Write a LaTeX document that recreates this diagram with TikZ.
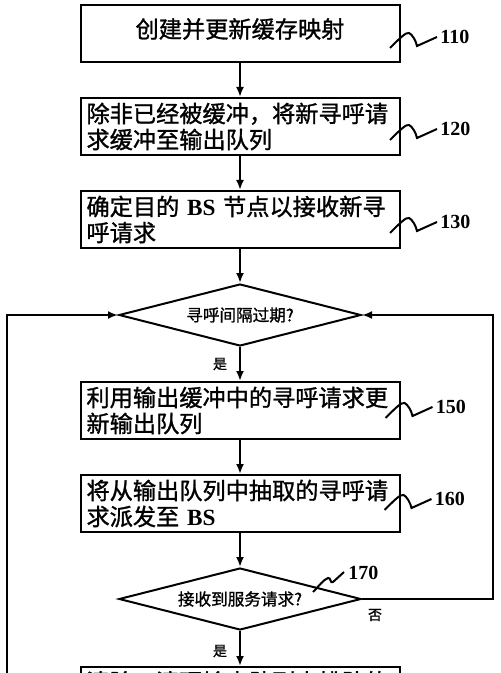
\documentclass[tikz,border=0pt]{standalone}
\usepackage{fontspec}
\setmainfont{Liberation Serif}
\newfontfamily\cjk{Noto Sans CJK SC}[FakeBold=1.2]
\usetikzlibrary{arrows.meta,shapes.geometric,positioning}
\tikzset{
  stepbox/.style={draw, line width=1pt, rectangle, minimum width=159.5pt, minimum height=28.5pt, text width=153.5pt, inner xsep=3pt, inner ysep=2pt, align=left, font=\cjk\fontsize{11.6}{13}\selectfont},
  decision/.style={draw, line width=1pt, diamond, aspect=4, minimum width=121pt, minimum height=31pt, inner sep=0pt, font=\cjk\fontsize{8.3}{10}\selectfont},
  flow/.style={line width=1pt, -{Latex[length=5pt,width=4pt]}},
  refnum/.style={anchor=west, inner sep=0pt, font=\bfseries\fontsize{10}{12}\selectfont},
  refline/.style={line width=1pt},
  answer/.style={inner sep=0pt, font=\cjk\fontsize{7}{8}\selectfont}
}
\newcommand{\refmark}[1]{\draw[refline] ([shift={(-50,11)}]#1.west) .. controls +(10,-10) and +(-3,-1) .. ++(19,-15) .. controls +(3,1) and +(-1,-5) .. ++(8,13) -- ++(20,-9);}

\begin{document}
\begin{tikzpicture}[x=0.5pt, y=-0.5pt]
  \useasboundingbox (0,0) rectangle (500,673);
  \clip (0,0) rectangle (500,673);

  \node[stepbox, align=center] (b110) at (240,33.5) {\raisebox{5.5pt}{创建并更新缓存映射}};
  \node[stepbox, below=17pt of b110] (b120) {除非已经被缓冲，将新寻呼请\\求缓冲至输出队列};
  \node[stepbox, below=17pt of b120] (b130) {确定目的 {\rmfamily\bfseries BS} 节点以接收新寻\\呼请求};
  \node[decision, below=17pt of b130] (d140) {寻呼间隔过期?};
  \node[stepbox, below=17pt of d140] (b150) {利用输出缓冲中的寻呼请求更\\新输出队列};
  \node[stepbox, below=17pt of b150] (b160) {将从输出队列中抽取的寻呼请\\求派发至 {\rmfamily\bfseries BS}};
  \node[decision, below=17pt of b160] (d170) {接收到服务请求?};
  \node[stepbox, below=17.5pt of d170] (b180) {清除：清理输出队列中排队的\\\strut};

  % reference numbers
  \node[refnum] (n110) at ([shift={(39.5,3.5)}]b110.east) {110};
  \node[refnum] (n120) at ([shift={(39.5,2.5)}]b120.east) {120};
  \node[refnum] (n130) at ([shift={(39.5,2.5)}]b130.east) {130};
  \node[refnum] (n150) at ([shift={(35,-3.5)}]b150.east) {150};
  \node[refnum] (n160) at ([shift={(34,-4.5)}]b160.east) {160};
  \node[refnum] (n170) at ([shift={(-14,-26)}]d170.east) {170};
  \node[refnum] (n180) at ([shift={(43,-9.5)}]b180.east) {180};
  \refmark{n110}
  \refmark{n120}
  \refmark{n130}
  \refmark{n150}
  \refmark{n160}
  \refmark{n180}
  \draw[refline] ([shift={(-35,19)}]n170.west) .. controls +(6,-6) and +(-5,2) .. ++(15,-14) .. controls +(3,-1) and +(-3,2) .. ++(5,4) -- ++(11,-10);

  % answers
  \node[answer] (y140) at ([shift={(-20,17)}]d140.south) {是};
  \node[answer] (y170) at ([shift={(-20,20)}]d170.south) {是};
  \node[answer] (n170a) at ([shift={(13,16)}]d170.east) {否};

  \coordinate (loopL) at (7,700);
  \coordinate (edgeR) at (493,0);

  \draw[flow] (b110) -- (b120);
  \draw[flow] (b120) -- (b130);
  \draw[flow] (b130) -- (d140);
  \draw[flow] (d140) -- (b150);
  \draw[flow] (b150) -- (b160);
  \draw[flow] (b160) -- (d170);
  \draw[flow] (d170) -- (b180);
  \draw[flow] (loopL) |- (d140.west);
  \draw[flow] (d170.east) -- (d170.east -| edgeR) |- (d140.east);
\end{tikzpicture}
\end{document}
